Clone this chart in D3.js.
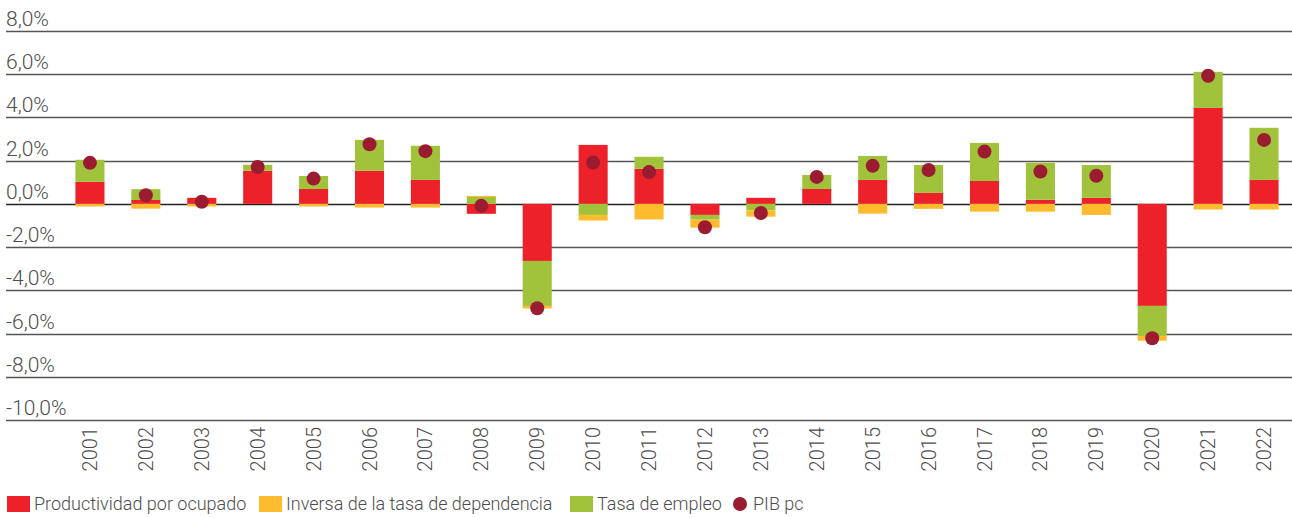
<!DOCTYPE html>
<html>
<head>
<meta charset="utf-8">
<script src="https://cdn.jsdelivr.net/npm/d3@7"></script>
<style>
  body { margin: 0; background: #fff; }
  text { font-family: Roboto, "Noto Sans", sans-serif; font-weight: 300; fill: #4d4d4d; }
</style>
</head>
<body>
<div id="canvas"></div>
<script>
const years = d3.range(2001, 2023).map(String);

// aportaciones (puntos porcentuales)
const productividad = [1.02, 0.18, 0.28, 1.53, 0.69, 1.53, 1.11, -0.46, -2.64, 2.73, 1.62, -0.51, 0.28, 0.69, 1.11, 0.51, 1.06, 0.19, 0.28, -4.72, 4.44, 1.11];
const empleo = [1.02, 0.50, 0, 0.28, 0.60, 1.43, 1.58, 0.32, -2.08, -0.51, 0.56, -0.22, -0.30, 0.65, 1.11, 1.29, 1.76, 1.71, 1.52, -1.39, 1.67, 2.41];
const inversa = [-0.12, -0.22, -0.12, 0, -0.12, -0.17, -0.17, 0.05, -0.12, -0.26, -0.72, -0.37, -0.29, 0, -0.45, -0.23, -0.36, -0.36, -0.51, -0.22, -0.26, -0.26];
const pibpc = [1.90, 0.40, 0.10, 1.71, 1.17, 2.76, 2.44, -0.09, -4.83, 1.91, 1.47, -1.08, -0.42, 1.25, 1.76, 1.57, 2.42, 1.50, 1.30, -6.22, 5.93, 2.96];

const yTicks = [8, 6, 4, 2, 0, -2, -4, -6, -8, -10];
const yTickLabels = ["8,0%", "6,0%", "4,0%", "2,0%", "0,0%", "-2,0%", "-4,0%", "-6,0%", "-8,0%", "-10,0%"];

const series = [
  {key: "prod", name: "Productividad por ocupado", values: productividad, color: "#ec2129"},
  {key: "emp", name: "Tasa de empleo", values: empleo, color: "#a0c33b"},
  {key: "inv", name: "Inversa de la tasa de dependencia", values: inversa, color: "#fdbb2d"}
];
const legendItems = [
  {name: "Productividad por ocupado", color: "#ec2129", type: "rect"},
  {name: "Inversa de la tasa de dependencia", color: "#fdbb2d", type: "rect"},
  {name: "Tasa de empleo", color: "#a0c33b", type: "rect"},
  {name: "PIB pc", color: "#9b1b30", type: "dot"}
];

const width = 1292;
const height = 518;

const svg = d3.select("#canvas").append("svg")
  .attr("width", width)
  .attr("height", height);

const x = d3.scaleBand()
  .domain(years)
  .range([62, 1292])
  .paddingInner(0.48)
  .paddingOuter(0.24);

const y = d3.scaleLinear()
  .domain([-10, 8])
  .range([420, 31]);

// rejilla
const grid = svg.append("g");
grid.selectAll("line").data(yTicks).enter().append("line")
  .attr("x1", 6).attr("x2", width)
  .attr("y1", d => Math.round(y(d)) + 0.5)
  .attr("y2", d => Math.round(y(d)) + 0.5)
  .attr("stroke", d => d === 0 ? "#222" : "#555")
  .attr("stroke-width", 1.4);

grid.selectAll("text").data(yTicks).enter().append("text")
  .attr("x", 6)
  .attr("y", d => Math.round(y(d)) - 5)
  .style("font-size", "21px")
  .text((d, i) => yTickLabels[i]);

// barras apiladas
const table = years.map((yr, i) => {
  const row = {year: yr};
  series.forEach(s => row[s.key] = s.values[i]);
  return row;
});

const stack = d3.stack()
  .keys(series.map(s => s.key))
  .offset(d3.stackOffsetDiverging);

const layers = svg.append("g").selectAll("g").data(stack(table)).enter().append("g")
  .attr("fill", (d, i) => series[i].color);

layers.selectAll("rect").data(d => d).enter().append("rect")
  .attr("x", d => x(d.data.year))
  .attr("width", x.bandwidth())
  .attr("y", d => y(Math.max(d[0], d[1])))
  .attr("height", d => Math.abs(y(d[0]) - y(d[1])));

// PIB pc
svg.append("g").selectAll("circle").data(pibpc).enter().append("circle")
  .attr("cx", (d, i) => x(years[i]) + x.bandwidth() / 2)
  .attr("cy", d => y(d))
  .attr("r", 7)
  .attr("fill", "#9b1b30");

// eje x
const xAxis = svg.append("g").attr("transform", "translate(0,427)");
xAxis.selectAll("text").data(years).enter().append("text")
  .attr("transform", d => `translate(${x(d) + x.bandwidth() / 2},0) rotate(-90)`)
  .attr("text-anchor", "end")
  .attr("dy", "0.35em")
  .style("font-size", "20px")
  .text(d => d);

// leyenda
const legendX = [7, 259, 570, 733];
const legend = svg.append("g").attr("transform", "translate(0,504)");
const li = legend.selectAll("g").data(legendItems).enter().append("g")
  .attr("transform", (d, i) => `translate(${legendX[i]},0)`);

li.filter(d => d.type === "rect").append("rect")
  .attr("x", 0).attr("y", -8).attr("width", 23).attr("height", 16)
  .attr("fill", d => d.color);
li.filter(d => d.type === "dot").append("circle")
  .attr("cx", 7).attr("cy", 0).attr("r", 7)
  .attr("fill", d => d.color);
li.append("text")
  .attr("x", d => d.type === "rect" ? 27 : 20)
  .attr("dy", "0.35em")
  .style("font-size", "18px")
  .text(d => d.name);
</script>
</body>
</html>
